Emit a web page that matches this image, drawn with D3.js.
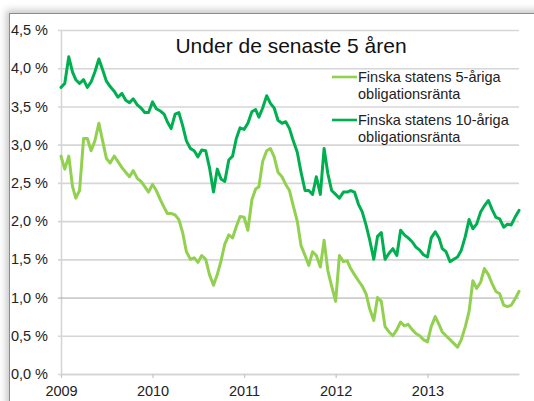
<!DOCTYPE html>
<html><head><meta charset="utf-8">
<script src="https://cdn.jsdelivr.net/npm/d3@7"></script>
<style>
body{margin:0;background:#fff;overflow:hidden}
svg{display:block}
text{font-family:"Liberation Sans",Arial,sans-serif}
</style>
</head><body>
<svg id="c" width="534" height="401"></svg>
<script>
const dates = [
"2009-01-01","2009-01-16","2009-02-01","2009-02-16","2009-03-01","2009-03-16","2009-04-01","2009-04-16","2009-05-01","2009-05-16","2009-06-01","2009-06-16",
"2009-07-01","2009-07-16","2009-08-01","2009-08-16","2009-09-01","2009-09-16","2009-10-01","2009-10-16","2009-11-01","2009-11-16","2009-12-01","2009-12-16",
"2010-01-01","2010-01-16","2010-02-01","2010-02-16","2010-03-01","2010-03-16","2010-04-01","2010-04-16","2010-05-01","2010-05-16","2010-06-01","2010-06-16",
"2010-07-01","2010-07-16","2010-08-01","2010-08-16","2010-09-01","2010-09-16","2010-10-01","2010-10-16","2010-11-01","2010-11-16","2010-12-01","2010-12-16",
"2011-01-01","2011-01-16","2011-02-01","2011-02-16","2011-03-01","2011-03-16","2011-04-01","2011-04-16","2011-05-01","2011-05-16","2011-06-01","2011-06-16",
"2011-07-01","2011-07-16","2011-08-01","2011-08-16","2011-09-01","2011-09-16","2011-10-01","2011-10-16","2011-11-01","2011-11-16","2011-12-01","2011-12-16",
"2012-01-01","2012-01-16","2012-02-01","2012-02-16","2012-03-01","2012-03-16","2012-04-01","2012-04-16","2012-05-01","2012-05-16","2012-06-01","2012-06-16",
"2012-07-01","2012-07-16","2012-08-01","2012-08-16","2012-09-01","2012-09-16","2012-10-01","2012-10-16","2012-11-01","2012-11-16","2012-12-01","2012-12-16",
"2013-01-01","2013-01-16","2013-02-01","2013-02-16","2013-03-01","2013-03-16","2013-04-01","2013-04-16","2013-05-01","2013-05-16","2013-06-01","2013-06-16",
"2013-07-01","2013-07-16","2013-08-01","2013-08-16","2013-09-01","2013-09-16","2013-10-01","2013-10-16","2013-11-01","2013-11-16","2013-12-01","2013-12-16",
"2014-01-01"];

const rate5 = [
2.85,2.68,2.85,2.45,2.30,2.40,3.08,3.08,2.92,3.05,3.28,3.05,2.82,2.76,2.85,2.78,2.70,2.64,2.58,2.66,2.56,2.52,2.45,2.38,
2.48,2.40,2.28,2.18,2.10,2.10,2.08,2.02,1.85,1.60,1.50,1.52,1.46,1.55,1.50,1.30,1.16,1.30,1.48,1.70,1.82,1.78,1.93,2.06,
2.05,1.88,2.28,2.42,2.45,2.78,2.92,2.95,2.84,2.64,2.58,2.48,2.40,2.20,2.00,1.68,1.55,1.42,1.60,1.55,1.40,1.75,1.35,1.15,
0.95,1.55,1.47,1.48,1.38,1.30,1.22,1.15,1.05,0.85,0.70,1.00,0.95,0.62,0.55,0.50,0.58,0.68,0.63,0.65,0.58,0.53,0.50,0.45,
0.42,0.62,0.75,0.65,0.55,0.50,0.45,0.40,0.35,0.45,0.62,0.82,1.22,1.12,1.20,1.38,1.30,1.18,1.08,1.05,0.90,0.88,0.90,0.98,
1.08];

const rate10 = [
3.75,3.80,4.15,3.95,3.85,3.80,3.85,3.75,3.82,3.95,4.12,3.98,3.83,3.76,3.70,3.62,3.67,3.58,3.55,3.60,3.52,3.48,3.42,3.42,
3.56,3.47,3.44,3.40,3.30,3.21,3.40,3.42,3.25,3.05,2.95,2.92,2.84,2.93,2.92,2.70,2.38,2.68,2.55,2.52,2.80,2.85,3.08,3.22,
3.20,3.28,3.43,3.46,3.36,3.48,3.64,3.54,3.48,3.32,3.28,3.30,3.21,3.05,2.90,2.64,2.40,2.40,2.35,2.58,2.35,2.95,2.62,2.40,
2.35,2.30,2.38,2.38,2.40,2.38,2.22,2.12,1.95,1.75,1.50,1.80,1.85,1.50,1.58,1.64,1.55,1.88,1.82,1.78,1.73,1.66,1.62,1.56,
1.53,1.78,1.86,1.78,1.64,1.60,1.47,1.50,1.53,1.62,1.80,2.02,1.90,1.96,2.12,2.20,2.27,2.15,2.05,2.03,1.92,1.96,1.95,2.05,
2.14];

const yTicks = [0,0.5,1,1.5,2,2.5,3,3.5,4,4.5];
const yearTicks = ["2009-01-01","2010-01-01","2011-01-01","2012-01-01","2013-01-01"];
const title = "Under de senaste 5 åren";
const seriesLabels = [["Finska statens 5-åriga","obligationsränta"],["Finska statens 10-åriga","obligationsränta"]];
const seriesColors = ["#92d050","#00b050"];

const parse = d3.utcParse("%Y-%m-%d");
const svg = d3.select("#c");

// frame with soft shadow
const defs = svg.append("defs");
defs.append("filter").attr("id","sh").attr("x","-10%").attr("y","-10%").attr("width","120%").attr("height","120%")
  .append("feGaussianBlur").attr("stdDeviation",3.5);
svg.append("rect").attr("x",6).attr("y",10).attr("width",560).attr("height",420)
  .attr("fill","#c8c8c8").attr("filter","url(#sh)");
svg.append("rect").attr("x",9.5).attr("y",13.5).attr("width",560).attr("height",420)
  .attr("fill","#fff").attr("stroke","#8c8c8c").attr("stroke-width",1);

const x = d3.scaleUtc().domain([parse("2009-01-01"), parse("2014-01-01")]).range([61, 519]);
const y = d3.scaleLinear().domain([0, 4.5]).range([374, 30]);

// y axis + gridlines
const yAxis = svg.append("g").attr("transform","translate(61,0)")
  .call(d3.axisLeft(y).tickValues(yTicks).tickSize(-(519-61)).tickSizeOuter(0).tickPadding(13)
    .tickFormat(d => d.toFixed(1).replace(".", ",") + " %"));
yAxis.select(".domain").attr("stroke","#d4d4d4").attr("stroke-width",1.5);
yAxis.selectAll(".tick line").attr("x1",-3)
  .attr("stroke", d => d === 1 ? "#a6a6a6" : "#d6d6d6")
  .attr("stroke-width", d => d === 1 ? 1 : 1.6);
yAxis.selectAll(".tick text").attr("font-size",14.5).attr("fill","#222");

// x axis
const xAxis = svg.append("g").attr("transform","translate(0,374)")
  .call(d3.axisBottom(x).tickValues(yearTicks.map(parse)).tickSize(4).tickSizeOuter(0).tickPadding(8)
    .tickFormat(d3.utcFormat("%Y")));
xAxis.select(".domain").attr("stroke","#d4d4d4").attr("stroke-width",1.6);
xAxis.selectAll(".tick line").attr("stroke","#c8c8c8").attr("stroke-width",1.3);
xAxis.selectAll(".tick text").attr("font-size",14.5).attr("fill","#222");

// lines
const line = d3.line().x((d,i) => x(parse(dates[i]))).y(d => y(d));
[rate5, rate10].forEach((s, i) => {
  svg.append("path").datum(s).attr("d", line).attr("fill","none")
    .attr("stroke", seriesColors[i]).attr("stroke-width", 3)
    .attr("stroke-linejoin","round").attr("stroke-linecap","round");
});

// title
svg.append("text").attr("x",291).attr("y",53).attr("text-anchor","middle")
  .attr("font-size",21).attr("fill","#111").text(title);

// legend
const legY = [77, 120];
seriesLabels.forEach((lab, i) => {
  const g = svg.append("g").attr("transform", `translate(332,${legY[i]})`);
  g.append("line").attr("x1",0).attr("x2",25).attr("y1",0).attr("y2",0)
    .attr("stroke", seriesColors[i]).attr("stroke-width",2.6);
  lab.forEach((t, j) => {
    g.append("text").attr("x",26).attr("y", j*17).attr("dy","0.35em")
      .attr("font-size",14.5).attr("fill","#222").text(t);
  });
});
</script>
</body></html>
